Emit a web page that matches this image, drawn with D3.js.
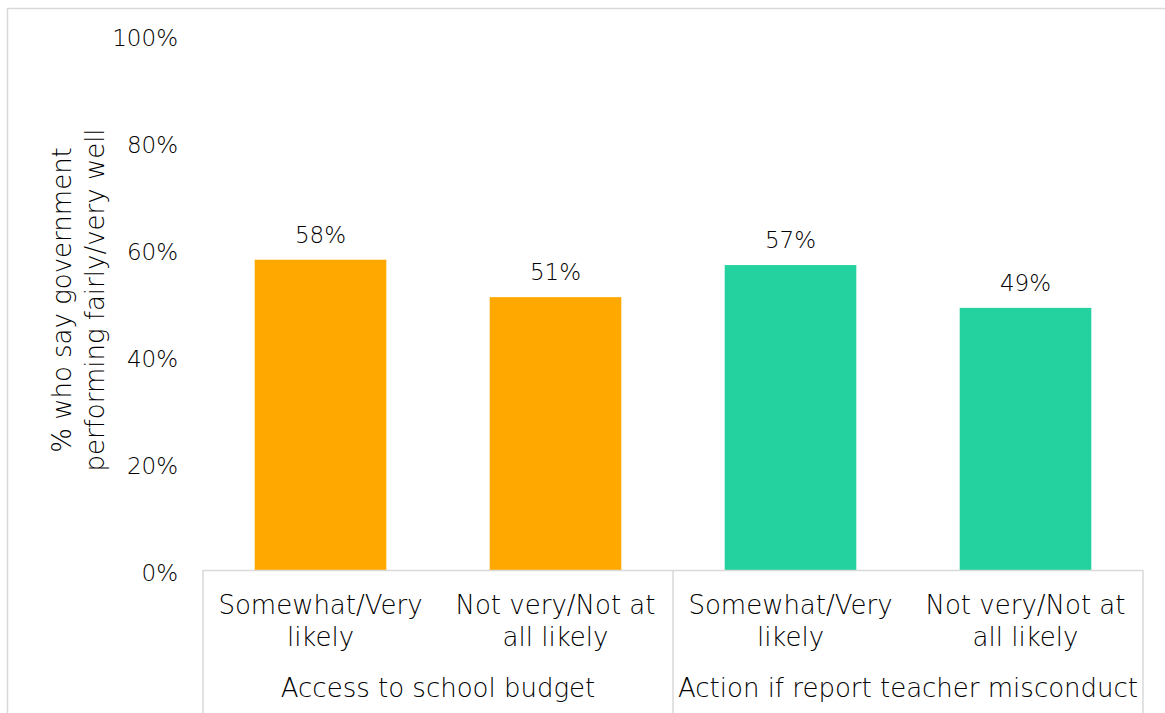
<!DOCTYPE html>
<html>
<head>
<meta charset="utf-8">
<script src="https://cdn.jsdelivr.net/npm/d3@7"></script>
<style>
  html, body { margin: 0; padding: 0; background: #fff; }
  svg { display: block; }
  text { font-family: "Century Gothic", "DejaVu Sans", sans-serif; font-weight: 200; fill: #000; }
</style>
</head>
<body>
<svg id="chart" width="1165" height="713"></svg>
<script>
// Survey responses grouped by question
const groups = ["Access to school budget", "Action if report teacher misconduct"];
const categories = [
  ["Somewhat/Very", "likely"],
  ["Not very/Not at", "all likely"],
  ["Somewhat/Very", "likely"],
  ["Not very/Not at", "all likely"]
];
const groupOfBar = [0, 0, 1, 1];
const values = [58, 51, 57, 49];
const groupColors = ["#FFA900", "#24D2A0"];
const yTicks = [0, 20, 40, 60, 80, 100];
const yTitle = ["% who say government", "performing fairly/very well"];

const svg = d3.select("#chart");
const W = 1165, H = 713;
const plot = { left: 203, right: 1143, top: 35, bottom: 570 };
const numSize = 23;     // tick and value labels
const labelSize = 26;   // category, group and axis title text

// outer frame (top and left edges visible)
svg.append("path")
  .attr("d", `M7.5,${H} V8.5 H${W}`)
  .attr("fill", "none")
  .attr("stroke", "#d9d9d9")
  .attr("stroke-width", 1.5);

const x = d3.scaleBand()
  .domain(d3.range(values.length))
  .range([plot.left, plot.right])
  .paddingInner(0.44)
  .paddingOuter(0.22);

const y = d3.scaleLinear().domain([0, 100]).range([plot.bottom, plot.top]);

// y axis labels only (no line, no ticks)
const yAxis = d3.axisLeft(y)
  .tickValues(yTicks)
  .tickFormat(d => d + "%")
  .tickSize(0)
  .tickPadding(0);
const yg = svg.append("g")
  .attr("transform", `translate(178,0)`)
  .call(yAxis);
yg.select(".domain").remove();
yg.selectAll("text")
  .attr("font-size", numSize)
  .attr("font-family", null)
  .attr("dy", "0.45em")
  .style("fill", "#000");

// y axis title, two lines rotated
const yt = svg.append("text")
  .attr("transform", `translate(62,300) rotate(-90)`)
  .attr("text-anchor", "middle")
  .attr("font-size", labelSize);
yTitle.forEach((line, i) => {
  yt.append("tspan")
    .attr("x", 0)
    .attr("dy", i === 0 ? "0.35em" : 33)
    .text(line);
});

// bars
svg.append("g").selectAll("rect")
  .data(values)
  .join("rect")
  .attr("x", (d, i) => x(i))
  .attr("width", x.bandwidth())
  .attr("y", d => y(d))
  .attr("height", d => y(0) - y(d))
  .attr("fill", (d, i) => groupColors[groupOfBar[i]]);

// value labels
svg.append("g").selectAll("text")
  .data(values)
  .join("text")
  .attr("x", (d, i) => x(i) + x.bandwidth() / 2)
  .attr("y", d => y(d) - 17)
  .attr("text-anchor", "middle")
  .attr("font-size", numSize)
  .text(d => d + "%");

// category axis line and group dividers
const axisColor = "#d9d9d9";
svg.append("line")
  .attr("x1", plot.left).attr("x2", plot.right)
  .attr("y1", plot.bottom + 0.5).attr("y2", plot.bottom + 0.5)
  .attr("stroke", axisColor).attr("stroke-width", 1.5);

const step = (plot.right - plot.left) / values.length;
const dividerX = [plot.left, plot.left + step * 2, plot.right];
svg.append("g").selectAll("line")
  .data(dividerX)
  .join("line")
  .attr("x1", d => d).attr("x2", d => d)
  .attr("y1", plot.bottom).attr("y2", H)
  .attr("stroke", axisColor).attr("stroke-width", 1.5);

// category labels (two lines each)
const catG = svg.append("g").selectAll("text")
  .data(categories)
  .join("text")
  .attr("text-anchor", "middle")
  .attr("font-size", labelSize)
  .attr("transform", (d, i) => `translate(${x(i) + x.bandwidth() / 2},614)`);
catG.selectAll("tspan")
  .data(d => d)
  .join("tspan")
  .attr("x", 0)
  .attr("dy", (d, i) => i === 0 ? 0 : 32)
  .text(d => d);

// group labels
svg.append("g").selectAll("text")
  .data(groups)
  .join("text")
  .attr("x", (d, i) => plot.left + step * (2 * i + 1))
  .attr("y", 697)
  .attr("text-anchor", "middle")
  .attr("font-size", labelSize)
  .text(d => d);
</script>
</body>
</html>
